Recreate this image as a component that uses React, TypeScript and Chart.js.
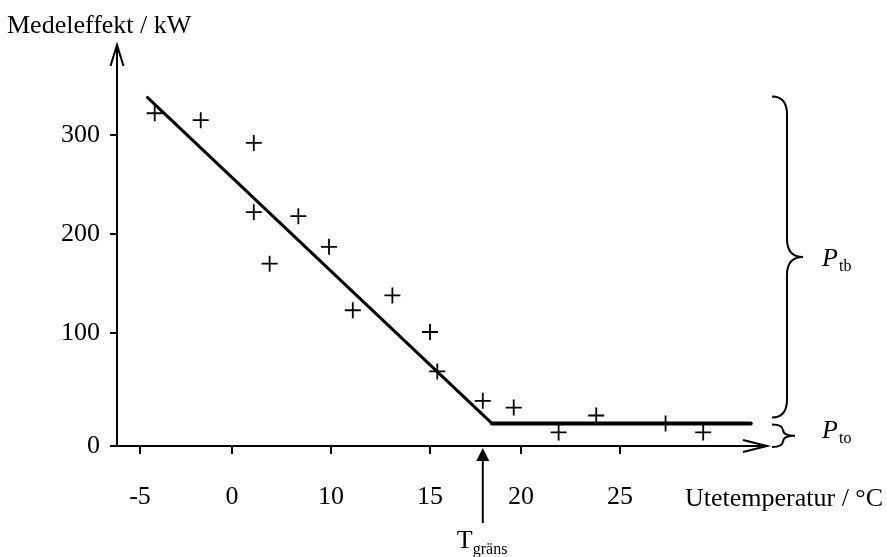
import React, { useEffect, useRef } from 'react';
import { Chart, registerables, LinearScale } from 'chart.js';

// ---- data ----
const X_TICKS = [-5, 0, 10, 15, 20, 25];
const Y_TICKS = [0, 100, 200, 300];
const TEMP = [-4.2, -1.7, 2.2, 2.2, 6.7, 9.8, 3.8, 11.1, 13.1, 15.0, 15.4, 17.9, 19.6, 21.9, 23.8, 27.3, 29.2];
const POWER = [322, 315, 292, 222, 218, 187, 170, 123, 138, 101, 66, 40, 34, 12, 27, 20, 12];
const FIT_TEMP = [-4.6, 18.4, 31.6];
const FIT_POWER = [338, 20, 20];
const T_GRANS = 17.9;
const X_TITLE = 'Utetemperatur / °C';
const Y_TITLE = 'Medeleffekt / kW';

const SERIF = '"Liberation Serif", "Times New Roman", Times, serif';

// Hand-drawn axes: tick intervals are not uniform, so map piecewise between anchors.
class PiecewiseScale extends LinearScale {
  static id = 'piecewise';
  static defaults = LinearScale.defaults;
  _pw() {
    const a: number[] = (this as any).options.anchors;
    const s: number[] = (this as any).options.spans;
    const cum = [0];
    for (const w of s) cum.push(cum[cum.length - 1] + w);
    return { a, s, cum, total: cum[cum.length - 1] };
  }
  getPixelForValue(value: any) {
    if (value === null || value === undefined || isNaN(value)) return NaN;
    const { a, s, cum, total } = this._pw();
    let i = 0;
    while (i < a.length - 2 && value > a[i + 1]) i++;
    const f = (cum[i] + ((value - a[i]) / (a[i + 1] - a[i])) * s[i]) / total;
    return (this as any).getPixelForDecimal(f);
  }
  getValueForPixel(pixel: number) {
    const { a, s, cum, total } = this._pw();
    const d = (this as any).getDecimalForPixel(pixel) * total;
    let i = 0;
    while (i < s.length - 1 && d > cum[i + 1]) i++;
    return a[i] + ((d - cum[i]) / s[i]) * (a[i + 1] - a[i]);
  }
}

Chart.register(...registerables, PiecewiseScale as any);

function brace(ctx: CanvasRenderingContext2D, xEnd: number, xSpine: number, xTip: number, yTop: number, yBot: number, r: number) {
  const yMid = (yTop + yBot) / 2;
  ctx.beginPath();
  ctx.moveTo(xEnd, yTop);
  ctx.quadraticCurveTo(xSpine, yTop, xSpine, yTop + r);
  ctx.lineTo(xSpine, yMid - r);
  ctx.quadraticCurveTo(xSpine, yMid, xTip, yMid);
  ctx.quadraticCurveTo(xSpine, yMid, xSpine, yMid + r);
  ctx.lineTo(xSpine, yBot - r);
  ctx.quadraticCurveTo(xSpine, yBot, xEnd, yBot);
  ctx.stroke();
  return yMid;
}

const annotations = {
  id: 'annotations',
  afterDraw(chart: any) {
    const { ctx, chartArea: ca, scales } = chart;
    const xs = scales.x;
    const ys = scales.y;
    ctx.save();
    ctx.strokeStyle = '#000';
    ctx.fillStyle = '#000';
    ctx.lineWidth = 2;
    ctx.lineCap = 'butt';

    // axis arrow heads (open)
    ctx.beginPath();
    ctx.moveTo(ca.left - 6.5, ca.top + 21);
    ctx.lineTo(ca.left, ca.top);
    ctx.lineTo(ca.left + 6.5, ca.top + 21);
    ctx.stroke();
    ctx.beginPath();
    ctx.moveTo(ca.right - 24, ca.bottom - 6);
    ctx.lineTo(ca.right, ca.bottom);
    ctx.lineTo(ca.right - 24, ca.bottom + 6);
    ctx.stroke();

    // T gräns arrow
    const tx = xs.getPixelForValue(T_GRANS);
    ctx.beginPath();
    ctx.moveTo(tx, ca.bottom + 2);
    ctx.lineTo(tx - 6.5, ca.bottom + 15);
    ctx.lineTo(tx + 6.5, ca.bottom + 15);
    ctx.closePath();
    ctx.fill();
    ctx.beginPath();
    ctx.moveTo(tx, ca.bottom + 14);
    ctx.lineTo(tx, ca.bottom + 77);
    ctx.stroke();

    // braces
    const yTopBig = ys.getPixelForValue(FIT_POWER[0]);
    const yBase = ys.getPixelForValue(FIT_POWER[1]);
    const yZero = ys.getPixelForValue(0);
    const midBig = brace(ctx, ca.right + 5, ca.right + 20, ca.right + 36, yTopBig - 1, yBase - 6, 18);
    const midSmall = brace(ctx, ca.right + 5, ca.right + 16, ca.right + 28, yBase + 1, yZero + 1, 6);

    // texts
    ctx.textAlign = 'left';
    ctx.textBaseline = 'alphabetic';
    ctx.font = `26px ${SERIF}`;
    ctx.fillText(Y_TITLE, 7, 33);
    ctx.textBaseline = 'middle';
    ctx.fillText(X_TITLE, 685, 499);
    ctx.textBaseline = 'alphabetic';

    ctx.font = `26px ${SERIF}`;
    ctx.fillText('T', tx - 26, 548);
    ctx.font = `16px ${SERIF}`;
    ctx.fillText('gräns', tx - 10, 554);

    const px = ca.right + 55;
    ctx.font = `italic 26px ${SERIF}`;
    ctx.fillText('P', px, midBig + 9);
    ctx.fillText('P', px, midSmall + 2);
    ctx.font = `16px ${SERIF}`;
    ctx.fillText('tb', px + 17, midBig + 14);
    ctx.fillText('to', px + 17, midSmall + 7);
    ctx.restore();
  },
};

export default function App() {
  const ref = useRef<HTMLCanvasElement | null>(null);
  useEffect(() => {
    document.body.style.margin = '0';
    const canvas = ref.current;
    if (!canvas) return;
    Chart.defaults.font.family = SERIF;
    Chart.defaults.color = '#000';
    const chart = new Chart(canvas, {
      type: 'scatter',
      data: {
        datasets: [
          {
            label: 'Mätvärden',
            data: TEMP.map((t, i) => ({ x: t, y: POWER[i] })),
            pointStyle: 'cross',
            pointRadius: 8,
            pointHoverRadius: 8,
            borderColor: '#000',
            backgroundColor: '#000',
            borderWidth: 1.8,
            showLine: false,
          },
          {
            label: 'Anpassning',
            data: FIT_TEMP.map((t, i) => ({ x: t, y: FIT_POWER[i] })),
            showLine: true,
            pointRadius: 0,
            pointHoverRadius: 0,
            borderColor: '#000',
            borderWidth: 3,
            borderCapStyle: 'round',
            borderJoinStyle: 'round',
            tension: 0,
            segment: { borderWidth: (c: any) => (c.p0DataIndex === 1 ? 4 : 3) },
          } as any,
        ],
      },
      options: {
        animation: false,
        responsive: false,
        devicePixelRatio: 1,
        events: [],
        layout: { padding: { top: 45, right: 120, bottom: 0, left: 0 } },
        plugins: { legend: { display: false }, tooltip: { enabled: false } },
        scales: {
          x: {
            type: 'piecewise' as any,
            anchors: [-6.25, -5, 0, 10, 15, 20, 25, 32.42],
            spans: [23, 92, 99, 99, 91, 99, 147],
            min: -6.25,
            max: 32.42,
            afterBuildTicks: (s: any) => { s.ticks = X_TICKS.map((v) => ({ value: v })); },
            afterFit: (s: any) => { s.height = 111; },
            grid: { drawOnChartArea: false, drawTicks: true, tickLength: 8, color: '#000', lineWidth: 2 },
            border: { display: true, color: '#000', width: 2 },
            ticks: { font: { size: 26, family: SERIF }, color: '#000', padding: 28, maxRotation: 0, autoSkip: false },
          } as any,
          y: {
            type: 'piecewise' as any,
            anchors: [0, 100, 200, 300, 391],
            spans: [113, 99, 99, 90],
            min: 0,
            max: 391,
            afterBuildTicks: (s: any) => { s.ticks = Y_TICKS.map((v) => ({ value: v })); },
            afterFit: (s: any) => { s.width = 117; },
            grid: { drawOnChartArea: false, drawTicks: true, tickLength: 7, color: '#000', lineWidth: 2 },
            border: { display: true, color: '#000', width: 2 },
            ticks: { font: { size: 26, family: SERIF }, color: '#000', padding: 10, autoSkip: false },
          } as any,
        },
      },
      plugins: [annotations],
    });
    return () => chart.destroy();
  }, []);
  return <canvas ref={ref} width={887} height={557} style={{ display: 'block' }} />;
}
